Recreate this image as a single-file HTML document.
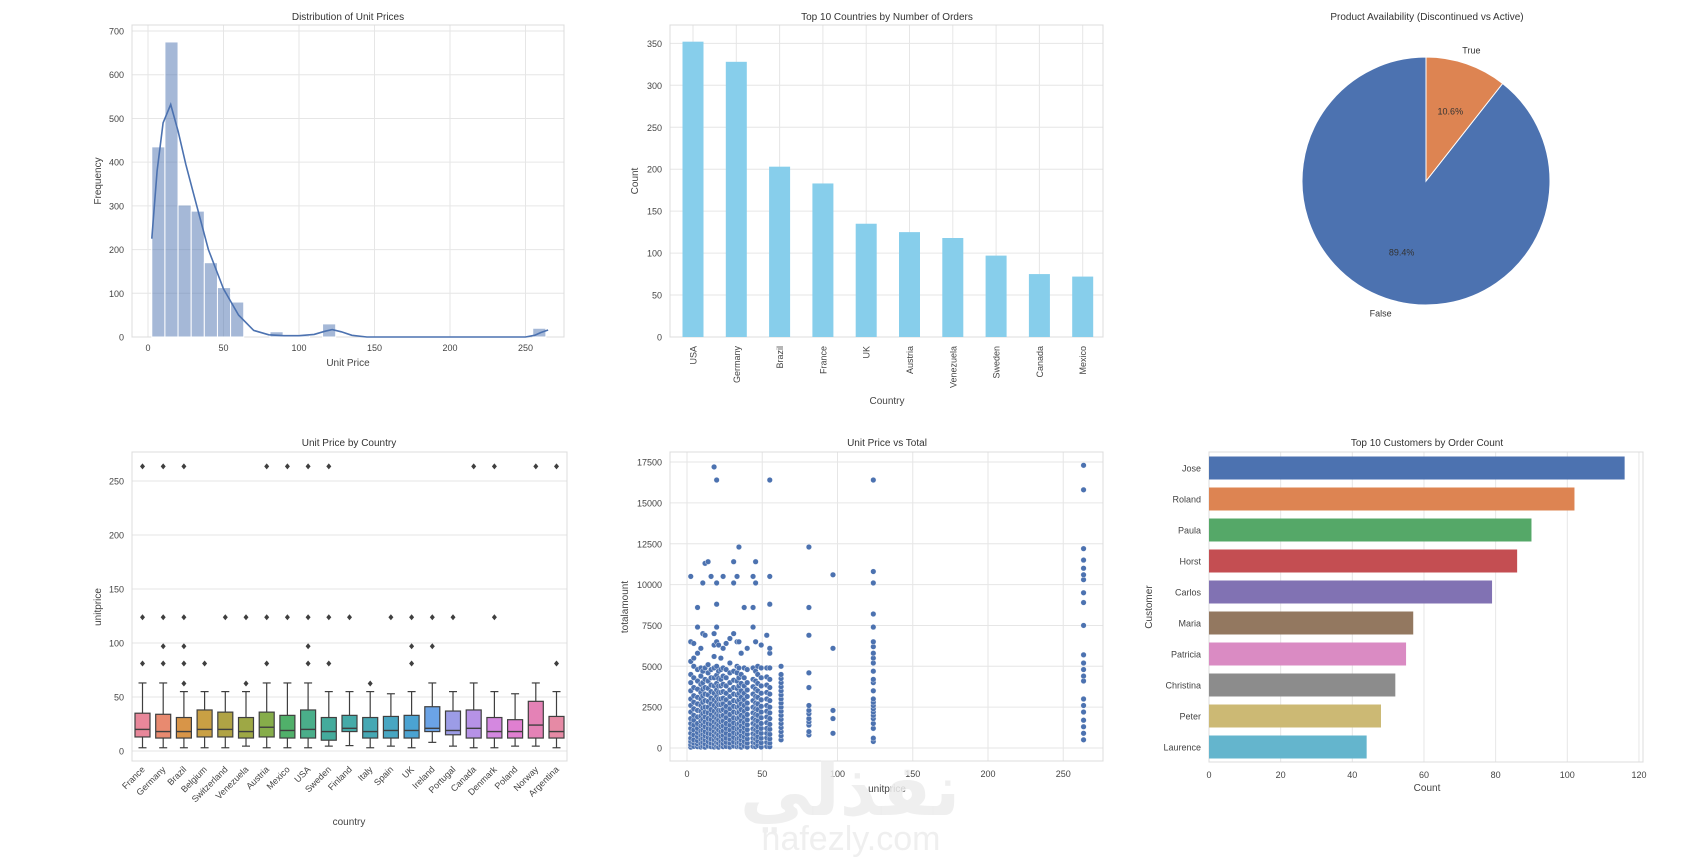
<!DOCTYPE html>
<html><head><meta charset="utf-8"><title>Orders Dashboard</title>
<style>
html,body{margin:0;padding:0;background:#fff;}
svg{display:block;font-family:"Liberation Sans","Noto Sans CJK SC",sans-serif;}
</style></head>
<body>
<svg id="c" width="1700" height="859" viewBox="0 0 1700 859" xmlns="http://www.w3.org/2000/svg">
<rect width="1700" height="859" fill="#fff"/>
<g id="wm" fill="#ececec" fill-opacity="0.85" font-family="'Liberation Sans','DejaVu Sans',sans-serif">
<text x="850" y="815" font-size="72" font-weight="bold" text-anchor="middle">نفذلي</text>
<text x="851" y="850" font-size="34" text-anchor="middle">nafezly.com</text>
</g>
</svg>
<script>
// ---------- data ----------
const histBinStart = 2.5;
const histBinWidth = 8.7;
const histCounts = [435,675,302,288,170,113,80,0,0,12,5,3,0,30,0,0,0,0,0,0,0,0,0,0,0,0,0,0,0,20];
const kdeX = [2.5,6,10,15,20,25,30,40,50,60,70,80,90,100,110,117,122,128,135,145,200,250,256,260,265];
const kdeY = [225,380,490,532,470,395,330,200,110,50,15,5,3,3,6,13,17,12,4,0,0,0,4,10,16];
const histXTicks = [0,50,100,150,200,250];
const histYTicks = [0,100,200,300,400,500,600,700];

const countryCats = ["USA","Germany","Brazil","France","UK","Austria","Venezuela","Sweden","Canada","Mexico"];
const countryCounts = [352,328,203,183,135,125,118,97,75,72];
const countryYTicks = [0,50,100,150,200,250,300,350];

const pieLabels = ["False","True"];
const pieValues = [89.4,10.6];

const boxCountries = ["France","Germany","Brazil","Belgium","Switzerland","Venezuela","Austria","Mexico","USA","Sweden","Finland","Italy","Spain","UK","Ireland","Portugal","Canada","Denmark","Poland","Norway","Argentina"];
const boxLow = [3,3,3,3,3,4.5,3,3,3,4.5,5,3,4.5,3,8,4.5,3,3,4.5,4.5,3];
const boxQ1 = [13,12,12,13,13,12,13,12,12,10,18,12,12,12,18,15,12,12,12,12,12];
const boxMed = [20,18,18,20,20,18,22,19,20,18,21,18,19,19,21,19,21,18,18,24,18];
const boxQ3 = [35,34,31,38,36,31,36,33,38,31,33,31,32,33,41,37,38,31,29,46,32];
const boxHigh = [63,63,55,55,55,55,63,63,63,55,55,55,53,55,63,55,63,55,53,63,55];
const boxOutliers = [[263.5,123.8,81],[263.5,123.8,97,81],[263.5,123.8,97,81,62.5],[81],[123.8],[123.8,62.5],[263.5,123.8,81],[263.5,123.8],[263.5,123.8,97,81],[263.5,123.8,81],[123.8],[62.5],[123.8],[123.8,97,81],[123.8,97],[123.8],[263.5],[263.5,123.8],[],[263.5],[263.5,81]];
const boxYTicks = [0,50,100,150,200,250];

const scatterData = [
"2.5:50,200,400,600,900,1200,1500,1800,2200,2600,3000,3500,4000,4500,5300,6500,10500",
"4.5:100,300,500,800,1100,1400,1700,2000,2400,2800,3200,3700,4300,5000,5500,6400",
"7:80,250,450,700,950,1200,1500,1900,2300,2700,3100,3600,4100,4800,5800,7400,8600",
"9.2:60,300,550,800,1050,1350,1650,1950,2250,2600,3000,3400,3900,4400,4900,6100",
"10.5:100,350,600,850,1100,1400,1750,2100,2450,2800,3200,3600,4000,4700,7000,10100",
"12:50,250,500,750,1000,1300,1600,1900,2200,2500,2900,3300,3700,4200,4900,6900,11300",
"14:120,400,650,900,1200,1500,1800,2150,2500,2850,3250,3650,4100,4600,5100,11400",
"16:80,300,550,850,1150,1450,1750,2050,2350,2700,3050,3450,3850,4300,4800,10500",
"18:60,260,500,760,1020,1300,1600,1900,2250,2600,2950,3350,3800,4300,4900,5600,6300,7000,17200",
"19.7:100,350,600,900,1200,1500,1800,2100,2450,2800,3150,3550,3950,4450,5000,6500,7400,8800,10100,16400",
"21:50,300,550,800,1100,1400,1700,2000,2300,2650,3000,3400,3800,4250,4700,6300",
"22.5:150,400,700,1000,1300,1600,1950,2300,2650,3000,3400,3800,4200,4800,5500",
"24:80,280,520,780,1050,1350,1650,2000,2350,2700,3050,3450,3900,4400,4900,6100,10500",
"26:100,350,600,900,1200,1500,1850,2200,2550,2950,3350,3800,4300,4800,6400",
"28.5:60,300,550,800,1100,1400,1700,2050,2400,2750,3150,3550,4000,4600,5200,6700",
"31:120,380,650,950,1250,1550,1850,2200,2550,2900,3300,3700,4150,4700,7000,10100,11400",
"33.25:80,300,550,850,1150,1450,1800,2150,2500,2850,3250,3650,4100,4600,5000,6500,10500",
"34.5:100,350,600,900,1200,1500,1850,2200,2550,2950,3350,3800,4300,4900,6500,12300",
"36:50,250,500,750,1050,1350,1650,2000,2350,2700,3100,3500,3950,4500,5800",
"38:120,400,680,960,1250,1550,1900,2250,2600,2950,3350,3800,4300,4900,8600",
"40:60,300,560,840,1120,1420,1720,2050,2400,2750,3150,3550,4000,4800,6100",
"43.9:100,350,600,880,1180,1500,1820,2150,2500,2900,3300,3750,4200,4900,7400,8600,10500",
"45.6:80,300,550,820,1100,1400,1700,2050,2400,2750,3150,3600,4100,4700,6500,10100,11400",
"47:150,420,700,1000,1300,1650,2000,2350,2700,3100,3500,3950,4500,5000",
"49.3:60,320,600,900,1200,1500,1850,2200,2550,2950,3350,3800,4300,4900,6300",
"53:100,350,620,900,1200,1550,1900,2250,2600,3000,3400,3850,4350,4900,6900",
"55:80,300,560,840,1150,1450,1800,2150,2500,2900,3300,3700,4200,4900,5800,6100,8800,10500,16400",
"62.5:500,750,1000,1250,1500,1750,2000,2250,2500,2750,3000,3250,3500,3750,4000,4250,4500,5000",
"81:800,1000,1400,1600,1800,2100,2300,2600,3700,4600,6900,8600,12300",
"97:900,1800,2300,6100,10600",
"123.8:400,600,1200,1500,1800,2000,2200,2400,2600,2800,3000,3500,4000,4200,4700,5200,5500,5800,6200,6500,7400,8200,10100,10800,16400",
"263.5:500,900,1300,1700,2200,2600,3000,4100,4400,4800,5200,5700,7500,8900,9500,10300,10600,11000,11500,12200,15800,17300"
];
const scatterXTicks = [0,50,100,150,200,250];
const scatterYTicks = [0,2500,5000,7500,10000,12500,15000,17500];

const customerNames = ["Jose","Roland","Paula","Horst","Carlos","Maria","Patricia","Christina","Peter","Laurence"];
const customerCounts = [116,102,90,86,79,57,55,52,48,44];
const customerXTicks = [0,20,40,60,80,100,120];

// ---------- helpers ----------
const NS="http://www.w3.org/2000/svg";
const svg=document.getElementById('c');
const wm=document.getElementById('wm');
function mk(tag,parent){const e=document.createElementNS(NS,tag);parent.appendChild(e);return e;}
function set(e,o){for(const k in o)e.setAttribute(k,o[k]);return e;}
function txt(p,x,y,s,size,anchor,rot,color){
  const t=mk('text',p);
  set(t,{x:x,y:y,'font-size':size,'text-anchor':anchor||'middle',fill:color||'#444'});
  if(rot)t.setAttribute('transform','rotate('+rot+' '+x+' '+y+')');
  t.textContent=s;return t;
}
function group(name){const g=mk('g',svg);return g;}
function frame(g,x0,y0,x1,y1){const r=mk('rect',g);set(r,{x:x0,y:y0,width:x1-x0,height:y1-y0,fill:'none',stroke:'#dcdcdc','stroke-width':1});}
function gline(g,x1,y1,x2,y2){const l=mk('line',g);set(l,{x1:x1,y1:y1,x2:x2,y2:y2,stroke:'#e6e6e6','stroke-width':1});}
const TS=9;

// ---------- 1. histogram ----------
(function(){
  const g=group('histogram-unit-prices');
  const X0=132,X1=564,Y0=25,Y1=337;
  const x=v=>148+v*1.51, y=v=>337-v*0.4371;
  histYTicks.forEach(v=>{gline(g,X0,y(v),X1,y(v));const t=txt(g,X0-8,y(v)+3.5,v,TS,'end');});
  histXTicks.forEach(v=>{gline(g,x(v),Y0,x(v),Y1);const t=txt(g,x(v),Y1+14,v,TS);});
  frame(g,X0,Y0,X1,Y1);
  histCounts.forEach((c,i)=>{ if(!c)return;
    const a=histBinStart+i*histBinWidth;
    const r=mk('rect',g);set(r,{x:x(a),y:y(c),width:x(a+histBinWidth)-x(a),height:Y1-y(c),fill:'rgba(76,114,176,0.5)',stroke:'#fff','stroke-width':1});
    
    
  });
  const p=mk('path',g);
  set(p,{d:kdeX.map((v,i)=>(i?'L':'M')+x(v).toFixed(1)+','+y(kdeY[i]).toFixed(1)).join(''),fill:'none',stroke:'#4c72b0','stroke-width':1.6});
  
  
  let t=txt(g,348,20,'Distribution of Unit Prices',10,'middle',0,'#333');
  t=txt(g,348,366,'Unit Price',10);
  t=txt(g,101,181,'Frequency',10,'middle',-90);
})();

// ---------- 2. countries bar ----------
(function(){
  const g=group('bar-top-countries');
  const X0=670,X1=1103,Y0=25,Y1=337;
  const x=i=>693+i*43.3, y=v=>337-v*0.839;
  countryYTicks.forEach(v=>{gline(g,X0,y(v),X1,y(v));const t=txt(g,X0-8,y(v)+3.5,v,TS,'end');});
  countryCats.forEach((c,i)=>{gline(g,x(i),Y0,x(i),Y1);});
  frame(g,X0,Y0,X1,Y1);
  countryCats.forEach((c,i)=>{
    const r=mk('rect',g);set(r,{x:x(i)-10.5,y:y(countryCounts[i]),width:21,height:Y1-y(countryCounts[i]),fill:'#87ceeb'});
    
    
    const t=txt(g,x(i)+3.5,346,c,TS,'end',-90);
    
    
  });
  let t=txt(g,887,20,'Top 10 Countries by Number of Orders',10,'middle',0,'#333');
  t=txt(g,887,404,'Country',10);
  t=txt(g,638,181,'Count',10,'middle',-90);
})();

// ---------- 3. pie ----------
(function(){
  const g=group('pie-product-availability');
  const cx=1426,cy=181,R=124,cols=['#4c72b0','#dd8452'];
  const total=pieValues.reduce((a,b)=>a+b,0);
  let a0=90;
  pieValues.forEach((v,i)=>{
    const a1=a0+v/total*360;
    const r0=a0*Math.PI/180,r1=a1*Math.PI/180;
    const p=mk('path',g);
    const large=(a1-a0)>180?1:0;
    set(p,{d:'M'+cx+','+cy+'L'+(cx+R*Math.cos(r0))+','+(cy-R*Math.sin(r0))+'A'+R+','+R+' 0 '+large+' 0 '+(cx+R*Math.cos(r1))+','+(cy-R*Math.sin(r1))+'Z',fill:cols[i],stroke:'#fff','stroke-width':1});
    
    
    const m=(a0+a1)/2*Math.PI/180;
    let t=txt(g,cx+R*1.12*Math.cos(m),cy-R*1.12*Math.sin(m)+4,pieLabels[i],TS,'middle',0,'#333');
    
    
    t=txt(g,cx+R*0.6*Math.cos(m),cy-R*0.6*Math.sin(m)+4,v.toFixed(1)+'%',TS,'middle',0,'#333');
    
    
    a0=a1;
  });
  const t=txt(g,1427,20,'Product Availability (Discontinued vs Active)',10,'middle',0,'#333');
})();

// ---------- 4. boxplot ----------
(function(){
  const g=group('boxplot-unit-price-by-country');
  const X0=132,X1=567,Y0=452,Y1=761;
  const x=i=>142.5+i*20.7, y=v=>751-v*1.08;
  const cols=['#e8879a','#e88a70','#d89548','#c9a044','#b0a345','#9ea845','#86ad4a','#50b06a','#4aae8a','#44ab9c','#45aaa8','#46a8b4','#48a6c2','#4ba3d2','#6ba3e6','#9c9ce6','#b692e6','#d488e0','#e07fd0','#e482b6','#e68aa5'];
  boxYTicks.forEach(v=>{gline(g,X0,y(v),X1,y(v));const t=txt(g,X0-8,y(v)+3.5,v,TS,'end');});
  frame(g,X0,Y0,X1,Y1);
  boxCountries.forEach((c,i)=>{
    const cx=x(i),w=15;
    const bg=mk('g',g);
    
    
    set(mk('line',bg),{x1:cx,x2:cx,y1:y(boxLow[i]),y2:y(boxQ1[i]),stroke:'#3f3f3f','stroke-width':1.2});
    set(mk('line',bg),{x1:cx,x2:cx,y1:y(boxQ3[i]),y2:y(boxHigh[i]),stroke:'#3f3f3f','stroke-width':1.2});
    set(mk('line',bg),{x1:cx-4,x2:cx+4,y1:y(boxLow[i]),y2:y(boxLow[i]),stroke:'#3f3f3f','stroke-width':1.2});
    set(mk('line',bg),{x1:cx-4,x2:cx+4,y1:y(boxHigh[i]),y2:y(boxHigh[i]),stroke:'#3f3f3f','stroke-width':1.2});
    set(mk('rect',bg),{x:cx-w/2,y:y(boxQ3[i]),width:w,height:y(boxQ1[i])-y(boxQ3[i]),fill:cols[i],stroke:'#3f3f3f','stroke-width':1.2});
    set(mk('line',bg),{x1:cx-w/2,x2:cx+w/2,y1:y(boxMed[i]),y2:y(boxMed[i]),stroke:'#3f3f3f','stroke-width':1.4});
    boxOutliers[i].forEach(o=>{
      const d=mk('path',g);
      const yy=y(o);
      set(d,{d:'M'+cx+','+(yy-3)+'L'+(cx+2.5)+','+yy+'L'+cx+','+(yy+3)+'L'+(cx-2.5)+','+yy+'Z',fill:'#3f3f3f'});
      
      
    });
    const t=txt(g,cx+3,770,c,TS,'end',-45);
    
    
  });
  let t=txt(g,349,446,'Unit Price by Country',10,'middle',0,'#333');
  t=txt(g,349,825,'country',10);
  t=txt(g,101,607,'unitprice',10,'middle',-90);
})();

// ---------- 5. scatter ----------
(function(){
  const g=group('scatter-unit-price-vs-total');
  const X0=670,X1=1103,Y0=452,Y1=761;
  const x=v=>687+v*1.505, y=v=>748-v*0.01634;
  scatterYTicks.forEach(v=>{gline(g,X0,y(v),X1,y(v));const t=txt(g,X0-8,y(v)+3.5,v,TS,'end');});
  scatterXTicks.forEach(v=>{gline(g,x(v),Y0,x(v),Y1);const t=txt(g,x(v),Y1+16,v,TS);});
  frame(g,X0,Y0,X1,Y1);
  scatterData.forEach(row=>{
    const parts=row.split(':');const px=parseFloat(parts[0]);
    parts[1].split(',').forEach(s=>{
      const c=mk('circle',g);
      set(c,{cx:x(px),cy:y(parseFloat(s)),r:2.8,fill:'#4c72b0',stroke:'#fff','stroke-width':0.4});
      
      
    });
  });
  let t=txt(g,887,446,'Unit Price vs Total',10,'middle',0,'#333');
  t=txt(g,887,792,'unitprice',10);
  t=txt(g,628,607,'totalamount',10,'middle',-90);
})();

// ---------- 6. customers ----------
(function(){
  const g=group('bar-top-customers');
  const X0=1209,X1=1643,Y0=452,Y1=762;
  const x=v=>1209+v*3.583, y=i=>468+i*31;
  const cols=['#4c72b0','#dd8452','#55a868','#c44e52','#8172b3','#937860','#da8bc3','#8c8c8c','#ccb974','#64b5cd'];
  customerXTicks.forEach(v=>{gline(g,x(v),Y0,x(v),Y1);const t=txt(g,x(v),Y1+16,v,TS);});
  frame(g,X0,Y0,X1,Y1);
  customerNames.forEach((n,i)=>{
    const r=mk('rect',g);set(r,{x:X0,y:y(i)-11.5,width:x(customerCounts[i])-X0,height:23,fill:cols[i]});
    
    
    const t=txt(g,X0-8,y(i)+3.5,n,TS,'end');
    
    
  });
  let t=txt(g,1427,446,'Top 10 Customers by Order Count',10,'middle',0,'#333');
  t=txt(g,1427,791,'Count',10);
  t=txt(g,1152,607,'Customer',10,'middle',-90);
})();

// watermark on top
svg.appendChild(wm);
</script>
</body></html>
